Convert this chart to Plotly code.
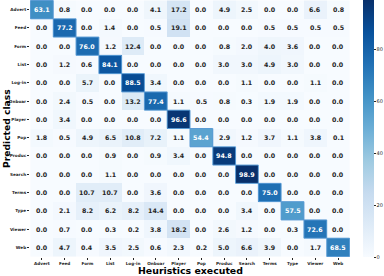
import plotly.graph_objects as go

classes = ["Advert", "Feed", "Form", "List", "Log-in", "Onboar", "Player",
           "Pop", "Produc", "Search", "Terms", "Type", "Viewer", "Web"]

advert = [63.1, 0.8, 0.0, 0.0, 0.0, 4.1, 17.2, 0.0, 4.9, 2.5, 0.0, 0.0, 6.6, 0.8]
feed   = [0.0, 77.2, 0.0, 1.4, 0.0, 0.5, 19.1, 0.0, 0.0, 0.0, 0.5, 0.5, 0.5, 0.5]
form   = [0.0, 0.0, 76.0, 1.2, 12.4, 0.0, 0.0, 0.0, 0.8, 2.0, 4.0, 3.6, 0.0, 0.0]
lst    = [0.0, 1.2, 0.6, 84.1, 0.0, 0.0, 0.0, 0.0, 3.0, 3.0, 4.9, 3.0, 0.0, 0.0]
login  = [0.0, 0.0, 5.7, 0.0, 88.5, 3.4, 0.0, 0.0, 0.0, 1.1, 0.0, 0.0, 1.1, 0.0]
onboar = [0.0, 2.4, 0.5, 0.0, 13.2, 77.4, 1.1, 0.5, 0.8, 0.3, 1.9, 1.9, 0.0, 0.0]
player = [0.0, 3.4, 0.0, 0.0, 0.0, 0.0, 96.6, 0.0, 0.0, 0.0, 0.0, 0.0, 0.0, 0.0]
pop    = [1.8, 0.5, 4.9, 6.5, 10.8, 7.2, 1.1, 54.4, 2.9, 1.2, 3.7, 1.1, 3.8, 0.1]
produc = [0.0, 0.0, 0.0, 0.9, 0.0, 0.9, 3.4, 0.0, 94.8, 0.0, 0.0, 0.0, 0.0, 0.0]
search = [0.0, 0.0, 0.0, 1.1, 0.0, 0.0, 0.0, 0.0, 0.0, 98.9, 0.0, 0.0, 0.0, 0.0]
terms  = [0.0, 0.0, 10.7, 10.7, 0.0, 3.6, 0.0, 0.0, 0.0, 0.0, 75.0, 0.0, 0.0, 0.0]
typ    = [0.0, 2.1, 8.2, 6.2, 8.2, 14.4, 0.0, 0.0, 0.0, 3.4, 0.0, 57.5, 0.0, 0.0]
viewer = [0.0, 0.7, 0.0, 0.3, 0.2, 3.8, 18.2, 0.0, 2.6, 1.2, 0.0, 0.3, 72.6, 0.0]
web    = [0.0, 4.7, 0.4, 3.5, 2.5, 0.6, 2.3, 0.2, 5.0, 6.6, 3.9, 0.0, 1.7, 68.5]

matrix = [advert, feed, form, lst, login, onboar, player, pop, produc,
          search, terms, typ, viewer, web]

colorbar_ticks = [0, 20, 40, 60, 80]

blues = ["rgb(247,251,255)", "rgb(222,235,247)", "rgb(198,219,239)",
         "rgb(158,202,225)", "rgb(107,174,214)", "rgb(66,146,198)",
         "rgb(33,113,181)", "rgb(8,81,156)", "rgb(8,48,107)"]
cscale = [[i / (len(blues) - 1), c] for i, c in enumerate(blues)]

zmax = max(max(r) for r in matrix)

fig = go.Figure(go.Heatmap(
    z=matrix, x=classes, y=classes, colorscale=cscale, zmin=0, zmax=zmax,
    colorbar=dict(thickness=11, len=1, lenmode="fraction", x=1.04, xanchor="left",
                  y=0.5, yanchor="middle", outlinewidth=0, xpad=0, ypad=0,
                  tickvals=colorbar_ticks, ticks="outside", ticklen=2,
                  tickcolor="#262626",
                  tickfont=dict(size=5, color="#262626", family="DejaVu Sans")),
    hoverinfo="skip",
))

annotations = []
shapes = []
for i, row in enumerate(matrix):
    for j, v in enumerate(row):
        annotations.append(dict(
            x=classes[j], y=classes[i], xref="x", yref="y",
            text="<b>%.1f</b>" % v, showarrow=False,
            font=dict(size=6.3, family="DejaVu Sans",
                      color="white" if v > 40 else "#262626")))
    shapes.append(dict(type="rect", xref="x", yref="y",
                       x0=i - 0.5, x1=i + 0.5, y0=i - 0.5, y1=i + 0.5,
                       line=dict(color="rgb(90,155,212)", width=1)))

annotations.append(dict(text="<b>Heuristics executed</b>", x=0.5, y=-0.074,
                        xref="paper", yref="paper", showarrow=False,
                        yanchor="bottom", xanchor="center", borderpad=0,
                        height=10, valign="middle",
                        font=dict(size=9.4, family="DejaVu Sans", color="black")))
annotations.append(dict(text="<b>Predicted class</b>", x=-0.0935, y=0.5,
                        xref="paper", yref="paper", showarrow=False, textangle=-90,
                        yanchor="middle", xanchor="left", borderpad=0,
                        font=dict(size=9.2, family="DejaVu Sans", color="black")))

fig.update_layout(
    width=384, height=276, margin=dict(l=30, r=34, t=0, b=19),
    paper_bgcolor="white", plot_bgcolor="white",
    annotations=annotations, shapes=shapes,
    font=dict(family="DejaVu Sans"),
)
fig.update_xaxes(ticks="outside", ticklen=2, tickcolor="#262626", showgrid=False,
                 tickfont=dict(size=4.2, color="#262626", family="DejaVu Sans"),
                 tickprefix="<b>", ticksuffix="</b>", tickangle=0)
fig.update_yaxes(ticks="outside", ticklen=2, tickcolor="#262626", showgrid=False,
                 autorange="reversed",
                 tickfont=dict(size=4.2, color="#262626", family="DejaVu Sans"),
                 tickprefix="<b>", ticksuffix="</b>")

fig.write_html("out.html", config={"displayModeBar": False},
               post_script="document.body.style.margin='0';document.body.style.overflow='hidden';")
